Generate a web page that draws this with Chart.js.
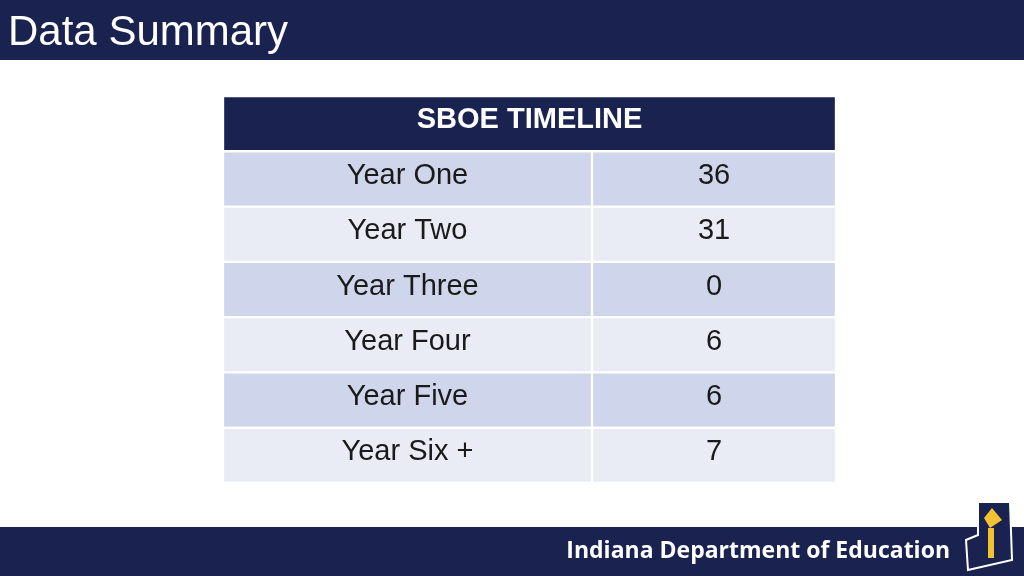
<!DOCTYPE html>
<html>
<head>
<meta charset="utf-8">
<script src="https://cdn.jsdelivr.net/npm/chart.js@4.4.0/dist/chart.umd.min.js"></script>
<style>
  html, body { margin: 0; padding: 0; background: #ffffff; overflow: hidden; }
  #wrap { width: 1024px; height: 576px; position: relative; }
</style>
</head>
<body>
<div id="wrap"><canvas id="tabela" width="1024" height="576"></canvas></div>
<script>
// Dados da tabela
const titulo = 'SBOE TIMELINE';
const categorias = ['Year One', 'Year Two', 'Year Three', 'Year Four', 'Year Five', 'Year Six +'];
const valores = [36, 31, 0, 6, 6, 7];
const divisao = 0.602;

const navy = '#1a2250';
const linhas = [titulo].concat(categorias);
const corLinha = (i) => i === 0 ? navy : (i % 2 === 1 ? '#cfd5ea' : '#e9ebf5');

// Faixas de cabeçalho e rodapé
const faixas = {
    id: 'faixas',
    beforeDraw(chart) {
        const ctx = chart.ctx;
        ctx.save();
        ctx.fillStyle = navy;
        ctx.fillRect(0, 0, 1024, 60);
        ctx.fillRect(0, 527, 1024, 49);
        ctx.fillStyle = '#ffffff';
        ctx.font = '42px "Liberation Sans", Arial, sans-serif';
        ctx.textBaseline = 'middle';
        ctx.fillText('Data Summary', 8, 33);
        ctx.font = 'bold 23px "Open Sans", "Noto Sans", sans-serif';
        ctx.textAlign = 'right';
        ctx.fillText('Indiana Department of Education', 950, 551);
        // logo simplificado
        ctx.strokeStyle = '#ffffff';
        ctx.lineWidth = 2;
        ctx.beginPath();
        ctx.moveTo(978, 502); ctx.lineTo(1010, 502); ctx.lineTo(1012, 560);
        ctx.lineTo(968, 570); ctx.lineTo(966, 540); ctx.lineTo(978, 535); ctx.closePath();
        ctx.fillStyle = navy;
        ctx.fill();
        ctx.stroke();
        ctx.fillStyle = '#f2c230';
        ctx.beginPath();
        ctx.moveTo(992, 508); ctx.lineTo(1002, 520); ctx.lineTo(990, 528); ctx.lineTo(984, 518); ctx.closePath();
        ctx.fill();
        ctx.fillRect(988, 528, 6, 30);
        ctx.restore();
    }
};

// Texto das células, posicionado pelas escalas
const textos = {
    id: 'textos',
    afterDatasetsDraw(chart) {
        const ctx = chart.ctx;
        const x = chart.scales.x, y = chart.scales.y;
        ctx.save();
        ctx.textAlign = 'center';
        ctx.textBaseline = 'middle';
        linhas.forEach((l, i) => {
            const py = y.getPixelForValue(i);
            if (i === 0) {
                ctx.fillStyle = '#ffffff';
                ctx.font = 'bold 29px "Liberation Sans", Arial, sans-serif';
                ctx.fillText(l, x.getPixelForValue(0.5), py - 4);
            } else {
                ctx.fillStyle = '#1a1a1a';
                ctx.font = '29px "Liberation Sans", Arial, sans-serif';
                ctx.fillText(l, x.getPixelForValue(divisao / 2), py - 3);
                ctx.fillText(String(valores[i - 1]), x.getPixelForValue((1 + divisao) / 2), py - 3);
            }
        });
        ctx.restore();
    }
};

new Chart(document.getElementById('tabela'), {
    type: 'bar',
    data: {
        labels: linhas,
        datasets: [
            {
                data: linhas.map((l, i) => i === 0 ? [0, 1] : [0, divisao]),
                backgroundColor: linhas.map((l, i) => corLinha(i)),
                borderColor: '#ffffff', borderWidth: 1.5, borderSkipped: false,
                grouped: false, barPercentage: 1, categoryPercentage: 1
            },
            {
                data: linhas.map((l, i) => i === 0 ? null : [divisao, 1]),
                backgroundColor: linhas.map((l, i) => corLinha(i)),
                borderColor: '#ffffff', borderWidth: 1.5, borderSkipped: false,
                grouped: false, barPercentage: 1, categoryPercentage: 1
            }
        ]
    },
    options: {
        indexAxis: 'y',
        responsive: false,
        devicePixelRatio: 1,
        animation: false,
        layout: { padding: { left: 223, right: 188, top: 96, bottom: 93 } },
        scales: {
            x: { display: false, min: 0, max: 1 },
            y: { display: false, offset: true }
        },
        plugins: { legend: { display: false }, tooltip: { enabled: false } }
    },
    plugins: [faixas, textos]
});
</script>
</body>
</html>
